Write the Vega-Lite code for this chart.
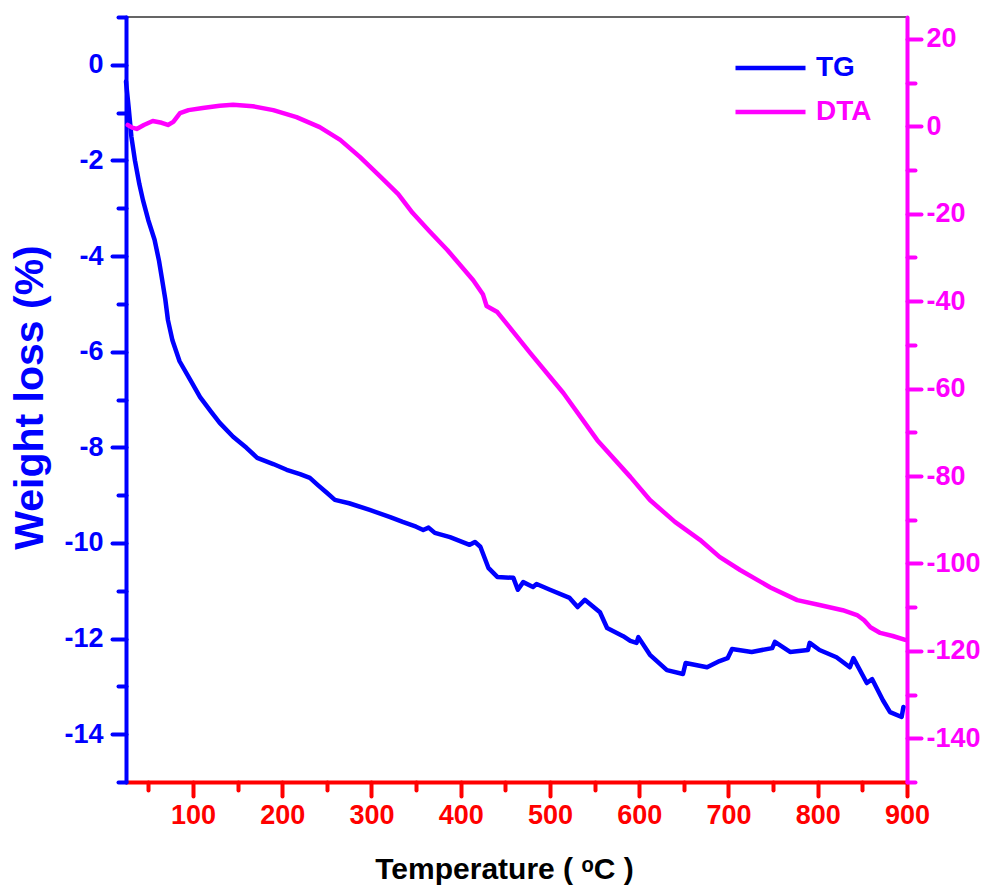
{
  "$schema": "https://vega.github.io/schema/vega-lite/v6.json",
  "width": 781,
  "height": 765,
  "autosize": {"type": "none"},
  "padding": {"left": 126, "top": 17, "right": 75, "bottom": 106},
  "background": "white",
  "config": {
    "view": {"stroke": "#333333", "strokeWidth": 1.5},
    "axis": {"grid": false, "labelOverlap": false, "labelFlush": false}
  },
  "datasets": {
    "tg": [
      {"T": 25, "W": -0.35}, {"T": 28, "W": -0.9}, {"T": 31, "W": -1.5}, {"T": 35, "W": -2.0},
      {"T": 40, "W": -2.5}, {"T": 44, "W": -2.83}, {"T": 50, "W": -3.25}, {"T": 57, "W": -3.66},
      {"T": 62, "W": -4.1}, {"T": 65, "W": -4.44}, {"T": 69, "W": -4.9}, {"T": 72, "W": -5.34},
      {"T": 77, "W": -5.76}, {"T": 85, "W": -6.2}, {"T": 97, "W": -6.59}, {"T": 108, "W": -6.95},
      {"T": 120, "W": -7.25}, {"T": 130, "W": -7.49}, {"T": 145, "W": -7.78}, {"T": 160, "W": -8.01},
      {"T": 172, "W": -8.22}, {"T": 190, "W": -8.35}, {"T": 205, "W": -8.47}, {"T": 220, "W": -8.56},
      {"T": 231, "W": -8.64}, {"T": 240, "W": -8.79}, {"T": 250, "W": -8.95}, {"T": 259, "W": -9.1},
      {"T": 275, "W": -9.17}, {"T": 298, "W": -9.31}, {"T": 321, "W": -9.46}, {"T": 335, "W": -9.56},
      {"T": 350, "W": -9.66}, {"T": 358, "W": -9.73}, {"T": 364, "W": -9.68}, {"T": 371, "W": -9.79},
      {"T": 388, "W": -9.88}, {"T": 410, "W": -10.04}, {"T": 416, "W": -9.98}, {"T": 422, "W": -10.08},
      {"T": 431, "W": -10.52}, {"T": 441, "W": -10.71}, {"T": 459, "W": -10.73}, {"T": 464, "W": -10.98},
      {"T": 470, "W": -10.82}, {"T": 481, "W": -10.92}, {"T": 485, "W": -10.86}, {"T": 500, "W": -10.98},
      {"T": 522, "W": -11.15}, {"T": 531, "W": -11.34}, {"T": 539, "W": -11.19}, {"T": 556, "W": -11.45},
      {"T": 564, "W": -11.78}, {"T": 582, "W": -11.95}, {"T": 590, "W": -12.05}, {"T": 597, "W": -12.09},
      {"T": 599, "W": -11.97}, {"T": 612, "W": -12.34}, {"T": 631, "W": -12.66}, {"T": 649, "W": -12.74},
      {"T": 652, "W": -12.51}, {"T": 676, "W": -12.6}, {"T": 690, "W": -12.47}, {"T": 699, "W": -12.41},
      {"T": 704, "W": -12.22}, {"T": 726, "W": -12.28}, {"T": 749, "W": -12.2}, {"T": 752, "W": -12.07},
      {"T": 769, "W": -12.28}, {"T": 789, "W": -12.24}, {"T": 791, "W": -12.09}, {"T": 802, "W": -12.24},
      {"T": 821, "W": -12.39}, {"T": 836, "W": -12.6}, {"T": 840, "W": -12.41}, {"T": 855, "W": -12.93},
      {"T": 861, "W": -12.85}, {"T": 873, "W": -13.29}, {"T": 881, "W": -13.54}, {"T": 894, "W": -13.64},
      {"T": 896, "W": -13.43}
    ],
    "dta": [
      {"T": 27, "D": 0.3}, {"T": 32, "D": -0.3}, {"T": 37, "D": -0.6}, {"T": 45, "D": 0.3},
      {"T": 55, "D": 1.2}, {"T": 65, "D": 0.8}, {"T": 72, "D": 0.3}, {"T": 78, "D": 1.0},
      {"T": 85.5, "D": 3.0}, {"T": 95, "D": 3.7}, {"T": 111, "D": 4.2}, {"T": 130, "D": 4.7},
      {"T": 145, "D": 4.9}, {"T": 167, "D": 4.6}, {"T": 190, "D": 3.7}, {"T": 216, "D": 2.1},
      {"T": 242, "D": -0.2}, {"T": 265, "D": -3.1}, {"T": 287, "D": -7.0}, {"T": 310, "D": -11.5},
      {"T": 330, "D": -15.5}, {"T": 346, "D": -19.8}, {"T": 365, "D": -24}, {"T": 385, "D": -28.3},
      {"T": 414, "D": -35.2}, {"T": 425, "D": -38.5}, {"T": 429, "D": -41.1}, {"T": 435, "D": -41.8},
      {"T": 441, "D": -42.5}, {"T": 460, "D": -47.3}, {"T": 478, "D": -51.9}, {"T": 515, "D": -61},
      {"T": 553, "D": -71.8}, {"T": 590, "D": -80.2}, {"T": 612, "D": -85.5}, {"T": 640, "D": -90.5},
      {"T": 668, "D": -94.6}, {"T": 690, "D": -98.5}, {"T": 713, "D": -101.5}, {"T": 747, "D": -105.5},
      {"T": 777, "D": -108.4}, {"T": 802, "D": -109.5}, {"T": 828, "D": -110.7}, {"T": 844, "D": -111.8},
      {"T": 852, "D": -113}, {"T": 859, "D": -114.6}, {"T": 870, "D": -115.9}, {"T": 884, "D": -116.6},
      {"T": 898, "D": -117.5}
    ]
  },
  "layer": [
    {
      "data": {"name": "tg"},
      "mark": {"type": "line", "strokeWidth": 4.5, "strokeCap": "round", "strokeJoin": "round"},
      "encoding": {
        "x": {
          "field": "T", "type": "quantitative",
          "scale": {"domain": [25, 900], "nice": false, "zero": false},
          "axis": {
            "values": [50, 100, 150, 200, 250, 300, 350, 400, 450, 500, 550, 600, 650, 700, 750, 800, 850, 900],
            "labelExpr": "datum.value % 100 === 0 ? toString(datum.value) : ''",
            "domainColor": "#ff0000", "domainWidth": 4, "domainCap": "round",
            "tickColor": "#ff0000", "tickWidth": 4, "tickCap": "round",
            "tickSize": {"condition": {"test": "datum.value % 100 === 0", "value": 14}, "value": 8},
            "labelColor": "#ff0000", "labelFont": "Liberation Sans, Arial, sans-serif",
            "labelFontSize": 27, "labelFontWeight": "bold", "labelPadding": 6,
            "title": "Temperature ( ᵒC )", "titleFont": "Liberation Sans, Arial, sans-serif",
            "titleFontSize": 30, "titleFontWeight": "bold", "titleColor": "#000000",
            "titleX": 378, "titleY": 96, "titleBaseline": "alphabetic", "titleAlign": "center"
          }
        },
        "y": {
          "field": "W", "type": "quantitative",
          "scale": {"domain": [-15, 1], "nice": false, "zero": false},
          "axis": {
            "orient": "left",
            "values": [-15, -14, -13, -12, -11, -10, -9, -8, -7, -6, -5, -4, -3, -2, -1, 0, 1],
            "labelExpr": "(datum.value % 2 === 0 && datum.value >= -14 && datum.value <= 0) ? toString(datum.value) : ''",
            "domainColor": "#0000ff", "domainWidth": 4, "domainCap": "round",
            "tickColor": "#0000ff", "tickWidth": 4, "tickCap": "round",
            "tickSize": {"condition": {"test": "datum.value % 2 === 0", "value": 14}, "value": 8},
            "labelColor": "#0000ff", "labelFont": "Liberation Sans, Arial, sans-serif",
            "labelFontSize": 27, "labelFontWeight": "bold", "labelPadding": 9,
            "title": "Weight loss (%)", "titleFont": "Liberation Sans, Arial, sans-serif",
            "titleFontSize": 41, "titleFontWeight": "bold", "titleColor": "#0000ff",
            "titleAngle": 270, "titleX": -96, "titleY": 380, "titleAlign": "center", "titleBaseline": "middle"
          }
        },
        "color": {
          "datum": "TG", "type": "nominal",
          "scale": {"domain": ["TG", "DTA"], "range": ["#0000ff", "#ff00ff"]},
          "legend": {
            "orient": "none", "legendX": 607, "legendY": 35, "title": null,
            "symbolType": "stroke", "symbolSize": 4900, "symbolStrokeWidth": 4.5,
            "labelFont": "Liberation Sans, Arial, sans-serif",
            "labelFontSize": 28, "labelFontWeight": "bold", "labelOffset": 8,
            "rowPadding": 12, "clipHeight": 32,
            "encode": {"labels": {"update": {"fill": {"signal": "datum.value === 'TG' ? '#0000ff' : '#ff00ff'"}}}}
          }
        }
      }
    },
    {
      "data": {"name": "dta"},
      "mark": {"type": "line", "strokeWidth": 4.5, "strokeCap": "round", "strokeJoin": "round"},
      "encoding": {
        "x": {"field": "T", "type": "quantitative"},
        "y": {
          "field": "D", "type": "quantitative",
          "scale": {"domain": [-150, 25], "nice": false, "zero": false},
          "axis": {
            "orient": "right",
            "values": [-150, -140, -130, -120, -110, -100, -90, -80, -70, -60, -50, -40, -30, -20, -10, 0, 10, 20],
            "labelExpr": "(datum.value % 20 === 0 && datum.value >= -140) ? toString(datum.value) : ''",
            "domainColor": "#ff00ff", "domainWidth": 4, "domainCap": "round",
            "tickColor": "#ff00ff", "tickWidth": 4, "tickCap": "round",
            "tickSize": {"condition": {"test": "datum.value % 20 === 0", "value": 14}, "value": 8},
            "labelColor": "#ff00ff", "labelFont": "Liberation Sans, Arial, sans-serif",
            "labelFontSize": 27, "labelFontWeight": "bold", "labelPadding": 5,
            "title": null
          }
        },
        "color": {"datum": "DTA", "type": "nominal"}
      }
    }
  ],
  "resolve": {"scale": {"y": "independent"}}
}
